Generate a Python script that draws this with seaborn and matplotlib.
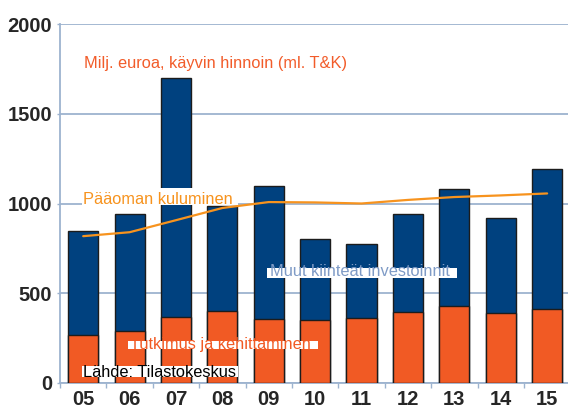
import matplotlib
matplotlib.use("Agg")
import matplotlib.pyplot as plt
from matplotlib.patches import Rectangle
import seaborn as sns
import numpy as np
import pandas as pd

years = ["05", "06", "07", "08", "09", "10", "11", "12", "13", "14", "15"]
rd = [267, 292, 367, 403, 359, 353, 363, 398, 429, 390, 411]
total = [848, 942, 1700, 985, 1098, 800, 772, 944, 1080, 917, 1190]
depreciation = [818, 840, 907, 975, 1008, 1006, 1000, 1020, 1036, 1045, 1056]
yticks = [0, 500, 1000, 1500, 2000]

NAVY = "#00417F"
ORANGE = "#F15A24"
LINE_OR = "#F7931E"
GRID = "#9DB3CF"
MUUT = "#7F9BC6"

sns.set_theme(style="white")
plt.rcParams["font.family"] = ["Liberation Sans", "DejaVu Sans"]

df = pd.DataFrame({"year": years, "rd": rd, "total": total})

fig = plt.figure(figsize=(5.68, 4.07), dpi=100)
ax = fig.add_axes([60 / 568, 24 / 407, 508 / 568, 359 / 407])

sns.barplot(data=df, x="year", y="total", color=NAVY, saturation=1, width=0.65,
            edgecolor="#1c1c1c", linewidth=1.0, ax=ax, zorder=3)
sns.barplot(data=df, x="year", y="rd", color=ORANGE, saturation=1, width=0.65,
            edgecolor="#1c1c1c", linewidth=1.0, ax=ax, zorder=4)
sns.lineplot(x=np.arange(len(years)), y=depreciation, color=LINE_OR, lw=1.6,
             ax=ax, zorder=5)

ax.set_xlim(-0.5, 10.45)
ax.set_ylim(0, 2000)
ax.set_yticks(yticks)
ax.set_yticklabels([str(v) for v in yticks], fontsize=14.5, fontweight="bold")
for lab in ax.get_xticklabels():
    lab.set_fontsize(14.5)
    lab.set_fontweight("bold")
ax.set_xlabel("")
ax.set_ylabel("")
ax.yaxis.grid(True, color=GRID, lw=1.3, zorder=0)
ax.set_axisbelow(True)
for s in ["top", "right"]:
    ax.spines[s].set_visible(False)
for s in ["left", "bottom"]:
    ax.spines[s].set_color(GRID)
    ax.spines[s].set_linewidth(1.3)
ax.tick_params(axis="y", length=2.5, width=1, color=GRID, pad=3, left=True)
ax.tick_params(axis="x", which="major", length=0, pad=5)
ax.set_xticks(np.arange(-0.5, 10.5, 1.0), minor=True)
ax.tick_params(axis="x", which="minor", length=3.5, width=1, color=GRID, bottom=True)

# white label backgrounds (drawn above bars and line)
bands = [
    (0.043, 0.496, 0.307, 0.046),
    (0.407, 0.293, 0.374, 0.027),
    (0.133, 0.094, 0.375, 0.024),
    (0.043, 0.017, 0.307, 0.029),
]
for bx, by, bw, bh in bands:
    ax.add_patch(Rectangle((bx, by), bw, bh, transform=ax.transAxes,
                           facecolor="white", edgecolor="none", zorder=6))

FS = 11.8
ax.text(0.047, 0.877, "Milj. euroa, käyvin hinnoin (ml. T&K)", transform=ax.transAxes,
        color="#F25C2A", fontsize=FS, va="baseline", ha="left", zorder=7)
ax.text(0.046, 0.4986, "Pääoman kuluminen", transform=ax.transAxes,
        color=LINE_OR, fontsize=FS, va="baseline", ha="left", zorder=7)
ax.text(0.413, 0.298, "Muut kiinteät investoinnit", transform=ax.transAxes,
        color=MUUT, fontsize=FS, va="baseline", ha="left", zorder=7)
ax.text(0.138, 0.094, "Tutkimus ja kehittäminen", transform=ax.transAxes,
        color=ORANGE, fontsize=FS, va="baseline", ha="left", zorder=7)
ax.text(0.046, 0.0175, "Lähde: Tilastokeskus", transform=ax.transAxes,
        color="black", fontsize=FS, va="baseline", ha="left", zorder=7)

fig.savefig("out.png", dpi=100)
